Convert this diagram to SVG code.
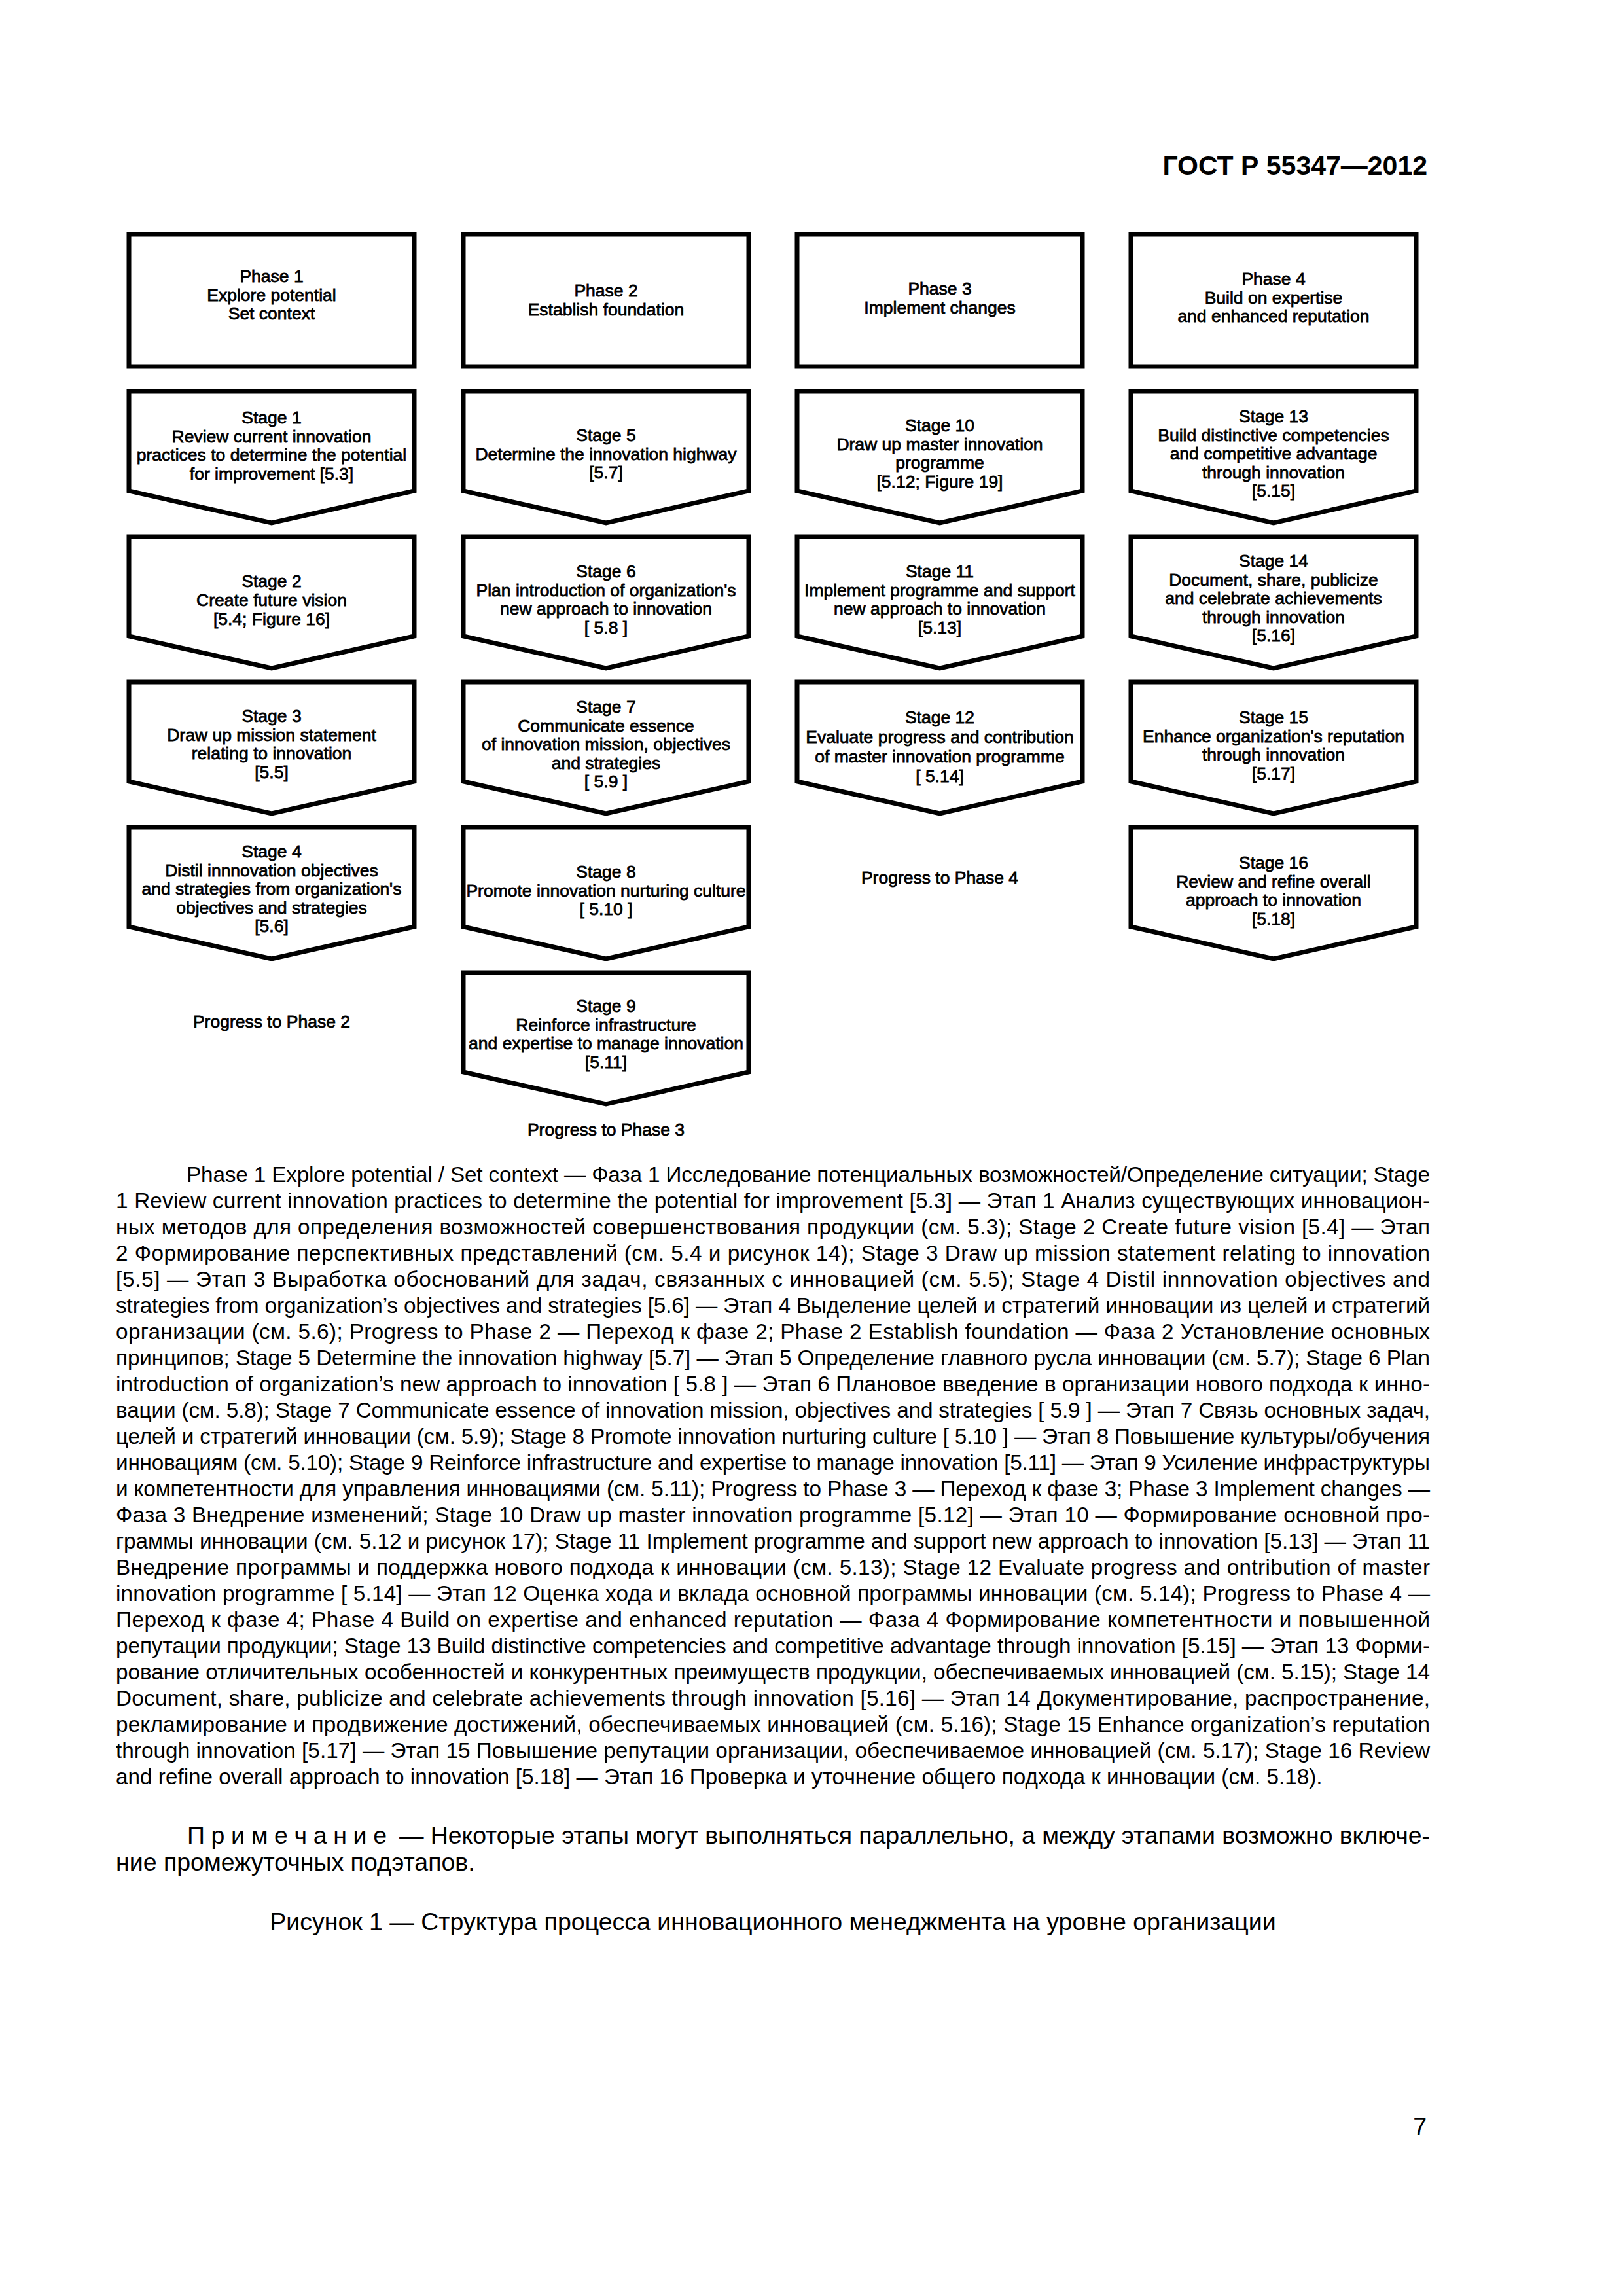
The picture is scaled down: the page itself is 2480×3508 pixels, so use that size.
<svg xmlns="http://www.w3.org/2000/svg" width="2480" height="3508" viewBox="0 0 2480 3508">
<style>
.bg{fill:#fff}
.box{fill:#fff;stroke:#000;stroke-width:7;stroke-linejoin:miter;stroke-miterlimit:10}
.nt{font-family:"Liberation Sans",Arial,sans-serif;font-size:26.5px;text-anchor:middle;fill:#000;stroke:#000;stroke-width:0.8}
.bt{font-family:"Liberation Sans",Arial,sans-serif;font-size:33.3px;fill:#000}
.nb{font-family:"Liberation Sans",Arial,sans-serif;font-size:37.5px;fill:#000}
.hdr{font-family:"Liberation Sans",Arial,sans-serif;font-size:41px;font-weight:bold;text-anchor:end;fill:#000}
</style>
<rect class="bg" x="0" y="0" width="2480" height="3508"/>
<text id="header" class="hdr" x="2181" y="267">ГОСТ Р 55347—2012</text>

<g id="phase1"><rect class="box" x="197" y="358" width="436" height="202"/>
<text class="nt"><tspan x="415" y="431">Phase 1</tspan><tspan x="415" y="459.5">Explore potential</tspan><tspan x="415" y="488">Set context</tspan></text></g>
<g id="phase2"><rect class="box" x="708" y="358" width="436" height="202"/>
<text class="nt"><tspan x="926" y="453">Phase 2</tspan><tspan x="926" y="481.5">Establish foundation</tspan></text></g>
<g id="phase3"><rect class="box" x="1218" y="358" width="436" height="202"/>
<text class="nt"><tspan x="1436" y="450">Phase 3</tspan><tspan x="1436" y="478.5">Implement changes</tspan></text></g>
<g id="phase4"><rect class="box" x="1728" y="358" width="436" height="202"/>
<text class="nt"><tspan x="1946" y="435">Phase 4</tspan><tspan x="1946" y="463.5">Build on expertise</tspan><tspan x="1946" y="492">and enhanced reputation</tspan></text></g>

<g id="stage1"><polygon class="box" points="197,598 633,598 633,750 415,799 197,750"/>
<text class="nt"><tspan x="415" y="647">Stage 1</tspan><tspan x="415" y="675.5">Review current innovation</tspan><tspan x="415" y="704">practices to determine the  potential</tspan><tspan x="415" y="732.5">for improvement [5.3]</tspan></text></g>
<g id="stage2"><polygon class="box" points="197,820 633,820 633,972 415,1021 197,972"/>
<text class="nt"><tspan x="415" y="897">Stage 2</tspan><tspan x="415" y="926">Create future vision</tspan><tspan x="415" y="955">[5.4; Figure 16]</tspan></text></g>
<g id="stage3"><polygon class="box" points="197,1042 633,1042 633,1194 415,1243 197,1194"/>
<text class="nt"><tspan x="415" y="1103">Stage 3</tspan><tspan x="415" y="1131.5">Draw up mission statement</tspan><tspan x="415" y="1160">relating to innovation</tspan><tspan x="415" y="1188.5">[5.5]</tspan></text></g>
<g id="stage4"><polygon class="box" points="197,1264 633,1264 633,1416 415,1465 197,1416"/>
<text class="nt"><tspan x="415" y="1310">Stage 4</tspan><tspan x="415" y="1338.5">Distil innnovation objectives</tspan><tspan x="415" y="1367">and strategies from organization's</tspan><tspan x="415" y="1395.5">objectives and strategies</tspan><tspan x="415" y="1424">[5.6]</tspan></text></g>
<g id="progress2"><text class="nt" x="415" y="1570">Progress to Phase 2</text></g>

<g id="stage5"><polygon class="box" points="708,598 1144,598 1144,750 926,799 708,750"/>
<text class="nt"><tspan x="926" y="674">Stage 5</tspan><tspan x="926" y="702.5">Determine the innovation highway</tspan><tspan x="926" y="731">[5.7]</tspan></text></g>
<g id="stage6"><polygon class="box" points="708,820 1144,820 1144,972 926,1021 708,972"/>
<text class="nt"><tspan x="926" y="882">Stage 6</tspan><tspan x="926" y="910.5">Plan introduction of organization's</tspan><tspan x="926" y="939">new approach to innovation</tspan><tspan x="926" y="967.5">[ 5.8 ]</tspan></text></g>
<g id="stage7"><polygon class="box" points="708,1042 1144,1042 1144,1194 926,1243 708,1194"/>
<text class="nt"><tspan x="926" y="1089">Stage 7</tspan><tspan x="926" y="1117.5">Communicate essence</tspan><tspan x="926" y="1146">of innovation mission, objectives</tspan><tspan x="926" y="1174.5">and strategies</tspan><tspan x="926" y="1203">[ 5.9 ]</tspan></text></g>
<g id="stage8"><polygon class="box" points="708,1264 1144,1264 1144,1416 926,1465 708,1416"/>
<text class="nt"><tspan x="926" y="1341">Stage 8</tspan><tspan x="926" y="1369.5">Promote innovation nurturing culture</tspan><tspan x="926" y="1398">[ 5.10 ]</tspan></text></g>
<g id="stage9"><polygon class="box" points="708,1486 1144,1486 1144,1638 926,1687 708,1638"/>
<text class="nt"><tspan x="926" y="1546">Stage 9</tspan><tspan x="926" y="1574.5">Reinforce infrastructure</tspan><tspan x="926" y="1603">and expertise to manage innovation</tspan><tspan x="926" y="1631.5">[5.11]</tspan></text></g>
<g id="progress3"><text class="nt" x="926" y="1735">Progress to Phase 3</text></g>

<g id="stage10"><polygon class="box" points="1218,598 1654,598 1654,750 1436,799 1218,750"/>
<text class="nt"><tspan x="1436" y="659">Stage 10</tspan><tspan x="1436" y="687.5">Draw up master innovation</tspan><tspan x="1436" y="716">programme</tspan><tspan x="1436" y="744.5">[5.12; Figure 19]</tspan></text></g>
<g id="stage11"><polygon class="box" points="1218,820 1654,820 1654,972 1436,1021 1218,972"/>
<text class="nt"><tspan x="1436" y="882">Stage 11</tspan><tspan x="1436" y="910.5">Implement programme and support</tspan><tspan x="1436" y="939">new approach to innovation</tspan><tspan x="1436" y="967.5">[5.13]</tspan></text></g>
<g id="stage12"><polygon class="box" points="1218,1042 1654,1042 1654,1194 1436,1243 1218,1194"/>
<text class="nt"><tspan x="1436" y="1105">Stage 12</tspan><tspan x="1436" y="1135">Evaluate progress and  contribution</tspan><tspan x="1436" y="1165">of master innovation programme</tspan><tspan x="1436" y="1195">[ 5.14]</tspan></text></g>
<g id="progress4"><text class="nt" x="1436" y="1350">Progress to Phase 4</text></g>

<g id="stage13"><polygon class="box" points="1728,598 2164,598 2164,750 1946,799 1728,750"/>
<text class="nt"><tspan x="1946" y="645">Stage 13</tspan><tspan x="1946" y="673.5">Build distinctive competencies</tspan><tspan x="1946" y="702">and competitive advantage</tspan><tspan x="1946" y="730.5">through innovation</tspan><tspan x="1946" y="759">[5.15]</tspan></text></g>
<g id="stage14"><polygon class="box" points="1728,820 2164,820 2164,972 1946,1021 1728,972"/>
<text class="nt"><tspan x="1946" y="866">Stage 14</tspan><tspan x="1946" y="894.5">Document, share, publicize</tspan><tspan x="1946" y="923">and celebrate achievements</tspan><tspan x="1946" y="951.5">through innovation</tspan><tspan x="1946" y="980">[5.16]</tspan></text></g>
<g id="stage15"><polygon class="box" points="1728,1042 2164,1042 2164,1194 1946,1243 1728,1194"/>
<text class="nt"><tspan x="1946" y="1105">Stage 15</tspan><tspan x="1946" y="1133.5">Enhance organization's reputation</tspan><tspan x="1946" y="1162">through innovation</tspan><tspan x="1946" y="1190.5">[5.17]</tspan></text></g>
<g id="stage16"><polygon class="box" points="1728,1264 2164,1264 2164,1416 1946,1465 1728,1416"/>
<text class="nt"><tspan x="1946" y="1327">Stage 16</tspan><tspan x="1946" y="1355.5">Review and refine overall</tspan><tspan x="1946" y="1384">approach to innovation</tspan><tspan x="1946" y="1412.5">[5.18]</tspan></text></g>

<g id="connectors"></g>

<g id="legend" class="bt">
<text x="285" y="1806" textLength="1900" lengthAdjust="spacing">Phase 1 Explore potential / Set context — Фаза 1 Исследование потенциальных возможностей/Определение ситуации; Stage</text>
<text x="177" y="1846" textLength="2008" lengthAdjust="spacing">1 Review current innovation practices to determine the  potential for improvement [5.3] — Этап 1 Анализ существующих инновацион-</text>
<text x="177" y="1886" textLength="2008" lengthAdjust="spacing">ных методов для определения возможностей совершенствования продукции (см. 5.3); Stage 2 Create future vision [5.4] — Этап</text>
<text x="177" y="1926" textLength="2008" lengthAdjust="spacing">2 Формирование перспективных представлений (см. 5.4 и рисунок 14); Stage 3 Draw up mission statement relating to innovation</text>
<text x="177" y="1966" textLength="2008" lengthAdjust="spacing">[5.5] — Этап 3 Выработка обоснований для задач, связанных с инновацией (см. 5.5); Stage 4 Distil innnovation objectives and</text>
<text x="177" y="2006" textLength="2008" lengthAdjust="spacing">strategies from organization’s objectives and strategies [5.6] — Этап 4 Выделение целей и стратегий инновации из целей и стратегий</text>
<text x="177" y="2046" textLength="2008" lengthAdjust="spacing">организации (см. 5.6); Progress to Phase 2 — Переход к фазе 2; Phase 2 Establish foundation — Фаза 2 Установление основных</text>
<text x="177" y="2086" textLength="2008" lengthAdjust="spacing">принципов; Stage 5 Determine the innovation highway [5.7] — Этап 5 Определение главного русла инновации (см. 5.7); Stage 6 Plan</text>
<text x="177" y="2126" textLength="2008" lengthAdjust="spacing">introduction of organization’s new approach to innovation [ 5.8 ] — Этап 6 Плановое введение в организации нового подхода к инно-</text>
<text x="177" y="2166" textLength="2008" lengthAdjust="spacing">вации (см. 5.8); Stage 7 Communicate essence of innovation mission, objectives and strategies [ 5.9 ] — Этап 7 Связь основных задач,</text>
<text x="177" y="2206" textLength="2008" lengthAdjust="spacing">целей и стратегий инновации (см. 5.9); Stage 8 Promote innovation nurturing culture [ 5.10 ] — Этап 8 Повышение культуры/обучения</text>
<text x="177" y="2246" textLength="2008" lengthAdjust="spacing">инновациям (см. 5.10); Stage 9 Reinforce infrastructure and expertise to manage innovation [5.11] — Этап 9 Усиление инфраструктуры</text>
<text x="177" y="2286" textLength="2008" lengthAdjust="spacing">и компетентности для управления инновациями (см. 5.11); Progress to Phase 3 — Переход к фазе 3; Phase 3 Implement changes —</text>
<text x="177" y="2326" textLength="2008" lengthAdjust="spacing">Фаза 3 Внедрение изменений; Stage 10 Draw up master innovation programme [5.12] — Этап 10 — Формирование основной про-</text>
<text x="177" y="2366" textLength="2008" lengthAdjust="spacing">граммы инновации (см. 5.12 и рисунок 17); Stage 11 Implement programme and support new approach to innovation [5.13] — Этап 11</text>
<text x="177" y="2406" textLength="2008" lengthAdjust="spacing">Внедрение программы и поддержка нового подхода к инновации (см. 5.13); Stage 12 Evaluate progress and  ontribution of master</text>
<text x="177" y="2446" textLength="2008" lengthAdjust="spacing">innovation programme [ 5.14] — Этап 12 Оценка хода и вклада основной программы инновации (см. 5.14); Progress to Phase 4 —</text>
<text x="177" y="2486" textLength="2008" lengthAdjust="spacing">Переход к фазе 4; Phase 4 Build on expertise and enhanced reputation — Фаза 4 Формирование компетентности и повышенной</text>
<text x="177" y="2526" textLength="2008" lengthAdjust="spacing">репутации продукции; Stage 13 Build distinctive competencies and competitive advantage through innovation [5.15] — Этап 13 Форми-</text>
<text x="177" y="2566" textLength="2008" lengthAdjust="spacing">рование отличительных особенностей и конкурентных преимуществ продукции, обеспечиваемых инновацией (см. 5.15); Stage 14</text>
<text x="177" y="2606" textLength="2008" lengthAdjust="spacing">Document, share, publicize and celebrate achievements through innovation [5.16] — Этап 14 Документирование, распространение,</text>
<text x="177" y="2646" textLength="2008" lengthAdjust="spacing">рекламирование и продвижение достижений, обеспечиваемых инновацией (см. 5.16); Stage 15 Enhance organization’s reputation</text>
<text x="177" y="2686" textLength="2008" lengthAdjust="spacing">through innovation [5.17] — Этап 15 Повышение репутации организации, обеспечиваемое инновацией (см. 5.17); Stage 16 Review</text>
<text x="177" y="2726">and refine overall approach to innovation [5.18] — Этап 16 Проверка и уточнение общего подхода к инновации (см. 5.18).</text>
</g>

<g id="note" class="nb">
<text x="286" y="2817" textLength="305" lengthAdjust="spacing">П р и м е ч а н и е</text>
<text x="610" y="2817" textLength="1575" lengthAdjust="spacing">— Некоторые этапы могут выполняться параллельно, а между этапами возможно включе-</text>
<text x="177" y="2858">ние промежуточных подэтапов.</text>
</g>
<g id="caption" class="nb"><text x="1181" y="2949" text-anchor="middle">Рисунок 1 — Структура процесса инновационного менеджмента на уровне организации</text></g>
<g id="pagenum" class="nb"><text x="2180" y="3262" text-anchor="end">7</text></g>
</svg>
